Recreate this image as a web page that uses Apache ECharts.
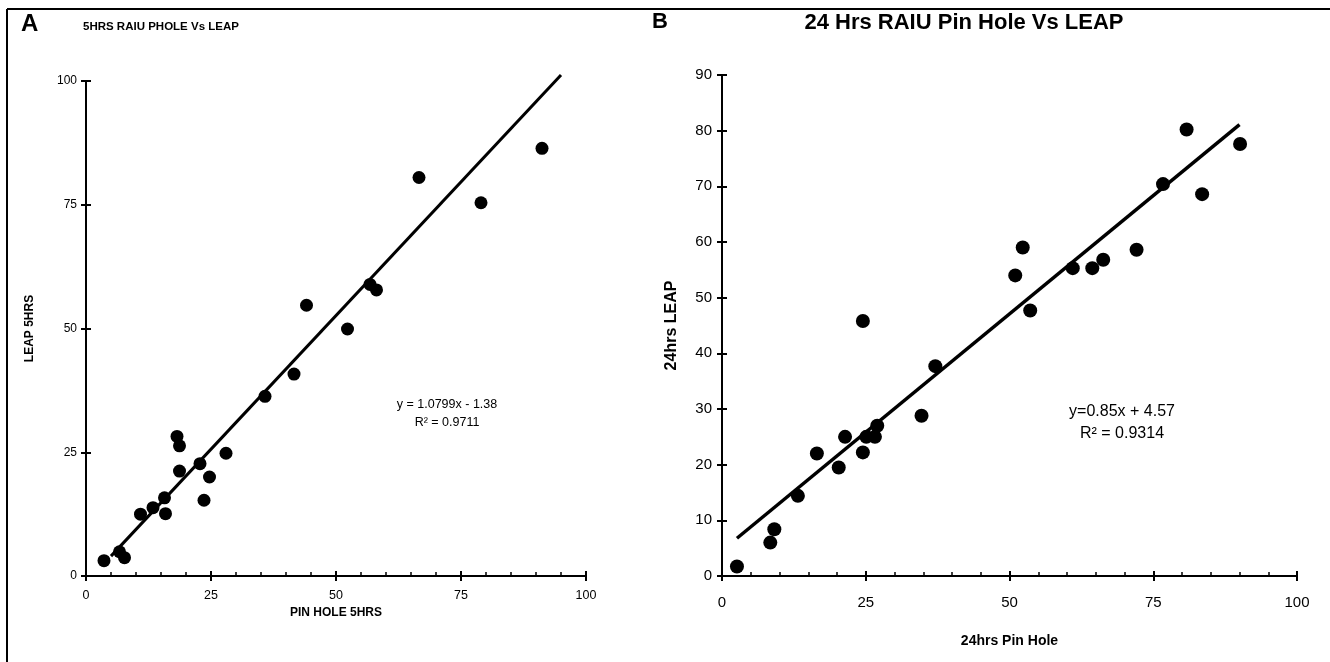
<!DOCTYPE html>
<html>
<head>
<meta charset="utf-8">
<script src="https://cdn.jsdelivr.net/npm/echarts@6/dist/echarts.min.js"></script>
<style>
html,body{margin:0;padding:0;background:#fff;}
#chart{width:1330px;height:662px;}
</style>
</head>
<body>
<div id="chart"></div>
<script>
// Panel A: 5 hrs RAIU pin hole vs LEAP
const pinHole5h = [3.6, 6.7, 7.7, 10.9, 13.4, 15.7, 15.9, 18.2, 18.7, 18.7, 22.8, 23.6, 24.7, 28.0, 35.8, 41.6, 44.1, 52.3, 56.8, 58.1, 66.6, 79.0, 91.2];
const leap5h    = [3.1, 4.9, 3.7, 12.5, 13.8, 15.8, 12.6, 28.2, 26.3, 21.2, 22.7, 15.3, 20.0, 24.8, 36.3, 40.8, 54.7, 49.9, 58.9, 57.8, 80.5, 75.4, 86.4];
const fitA = { slope: 1.0799, intercept: -1.38, xFrom: 5, xTo: 95 };
const ticksA = { xMin: 0, xMax: 100, xStep: 25, yMin: 0, yMax: 100, yStep: 25 };

// Panel B: 24 hrs RAIU pin hole vs LEAP
const pinHole24h = [2.6, 8.4, 9.1, 13.2, 16.5, 20.3, 21.4, 24.5, 25.1, 26.6, 27.0, 34.7, 37.1, 24.5, 51.0, 52.3, 53.6, 61.0, 64.4, 66.3, 72.1, 76.7, 80.8, 83.5, 90.1];
const leap24h    = [1.7, 6.0, 8.4, 14.4, 22.0, 19.5, 25.0, 22.2, 25.0, 25.0, 27.0, 28.8, 37.7, 45.8, 54.0, 59.0, 47.7, 55.3, 55.3, 56.8, 58.6, 70.4, 80.2, 68.6, 77.6];
const fitB = { slope: 0.85, intercept: 4.57, xFrom: 2.6, xTo: 90 };
const ticksB = { xMin: 0, xMax: 100, xStep: 25, yMin: 0, yMax: 90, yStep: 10 };

const FONT = '"Liberation Sans", Arial, Helvetica, sans-serif';

function pairs(xs, ys) { return xs.map((x, i) => [x, ys[i]]); }
function fitLine(f) {
  return [[f.xFrom, f.slope * f.xFrom + f.intercept], [f.xTo, f.slope * f.xTo + f.intercept]];
}

const grids = [
  { left: 86, right: 744, top: 81, bottom: 86 },
  { left: 722, right: 33, top: 75, bottom: 86 }
];

function xAxes(gi, t, fs, margin, name, nameGap, nameFs) {
  const base = {
    type: 'value', gridIndex: gi, min: t.xMin, max: t.xMax, interval: t.xStep,
    position: 'bottom', splitLine: { show: false },
    axisLine: { onZero: false, lineStyle: { color: '#000', width: 2 } }
  };
  return [
    Object.assign({}, base, {
      name: name, nameLocation: 'middle', nameGap: nameGap,
      nameTextStyle: { fontFamily: FONT, fontWeight: 'bold', fontSize: nameFs, color: '#000' },
      axisTick: { show: true, inside: true, length: 5, lineStyle: { color: '#000', width: 2 } },
      minorTick: { show: true, splitNumber: 5, length: 4, lineStyle: { color: '#000', width: 1.5 } },
      axisLabel: { fontFamily: FONT, fontSize: fs, color: '#000', margin: margin }
    }),
    Object.assign({}, base, {
      axisTick: { show: true, inside: false, length: 5, lineStyle: { color: '#000', width: 2 } },
      axisLabel: { show: false }
    })
  ];
}
function yAxes(gi, t, fs, margin, name, nameGap, nameFs) {
  const base = {
    type: 'value', gridIndex: gi, min: t.yMin, max: t.yMax, interval: t.yStep,
    position: 'left', splitLine: { show: false },
    axisLine: { onZero: false, lineStyle: { color: '#000', width: 2 } }
  };
  return [
    Object.assign({}, base, {
      name: name, nameLocation: 'middle', nameGap: nameGap,
      nameTextStyle: { fontFamily: FONT, fontWeight: 'bold', fontSize: nameFs, color: '#000' },
      axisTick: { show: true, inside: false, length: 5, lineStyle: { color: '#000', width: 2 } },
      axisLabel: { fontFamily: FONT, fontSize: fs, color: '#000', margin: margin }
    }),
    Object.assign({}, base, {
      axisTick: { show: true, inside: true, length: 5, lineStyle: { color: '#000', width: 2 } },
      axisLabel: { show: false }
    })
  ];
}

const option = {
  backgroundColor: '#fff',
  animation: false,
  grid: grids,
  xAxis: [].concat(
    xAxes(0, ticksA, 12.5, 13, 'PIN HOLE 5HRS', 30, 12),
    xAxes(1, ticksB, 15, 19, '24hrs Pin Hole', 58, 14)
  ),
  yAxis: [].concat(
    yAxes(0, ticksA, 12, 9, 'LEAP 5HRS', 50, 12),
    yAxes(1, ticksB, 15, 10, '24hrs LEAP', 42, 16)
  ),
  series: [
    { type: 'scatter', xAxisIndex: 0, yAxisIndex: 0, data: pairs(pinHole5h, leap5h),
      symbolSize: 13, itemStyle: { color: '#000', opacity: 1 }, clip: false },
    { type: 'line', xAxisIndex: 0, yAxisIndex: 0, data: fitLine(fitA), symbol: 'none',
      lineStyle: { color: '#000', width: 3 }, clip: false },
    { type: 'scatter', xAxisIndex: 2, yAxisIndex: 2, data: pairs(pinHole24h, leap24h),
      symbolSize: 14, itemStyle: { color: '#000', opacity: 1 }, clip: false },
    { type: 'line', xAxisIndex: 2, yAxisIndex: 2, data: fitLine(fitB), symbol: 'none',
      lineStyle: { color: '#000', width: 3.5 }, clip: false }
  ],
  graphic: [
    { type: 'line', shape: { x1: 7, y1: 9, x2: 1330, y2: 9 }, style: { stroke: '#000', lineWidth: 2 } },
    { type: 'line', shape: { x1: 7, y1: 9, x2: 7, y2: 662 }, style: { stroke: '#000', lineWidth: 2 } },
    { type: 'text', left: 21, top: 12, style: { text: 'A', font: 'bold 24px ' + FONT, fill: '#000' } },
    { type: 'text', left: 83, top: 21, style: { text: '5HRS RAIU PHOLE Vs LEAP', font: 'bold 11.5px ' + FONT, fill: '#000' } },
    { type: 'text', left: 652, top: 11, style: { text: 'B', font: 'bold 22px ' + FONT, fill: '#000' } },
    { type: 'text', x: 964, y: 23, style: { text: '24 Hrs RAIU Pin Hole Vs LEAP', font: 'bold 22px ' + FONT, fill: '#000', align: 'center', verticalAlign: 'middle' } },
    { type: 'text', x: 447, y: 405, style: { text: 'y = 1.0799x - 1.38', font: '12.5px ' + FONT, fill: '#000', align: 'center', verticalAlign: 'middle' } },
    { type: 'text', x: 447, y: 423, style: { text: 'R² = 0.9711', font: '12.5px ' + FONT, fill: '#000', align: 'center', verticalAlign: 'middle' } },
    { type: 'text', x: 1122, y: 412, style: { text: 'y=0.85x + 4.57', font: '16px ' + FONT, fill: '#000', align: 'center', verticalAlign: 'middle' } },
    { type: 'text', x: 1122, y: 434, style: { text: 'R² = 0.9314', font: '16px ' + FONT, fill: '#000', align: 'center', verticalAlign: 'middle' } }
  ]
};

const chart = echarts.init(document.getElementById('chart'), null, { renderer: 'canvas' });
chart.setOption(option);
</script>
</body>
</html>
